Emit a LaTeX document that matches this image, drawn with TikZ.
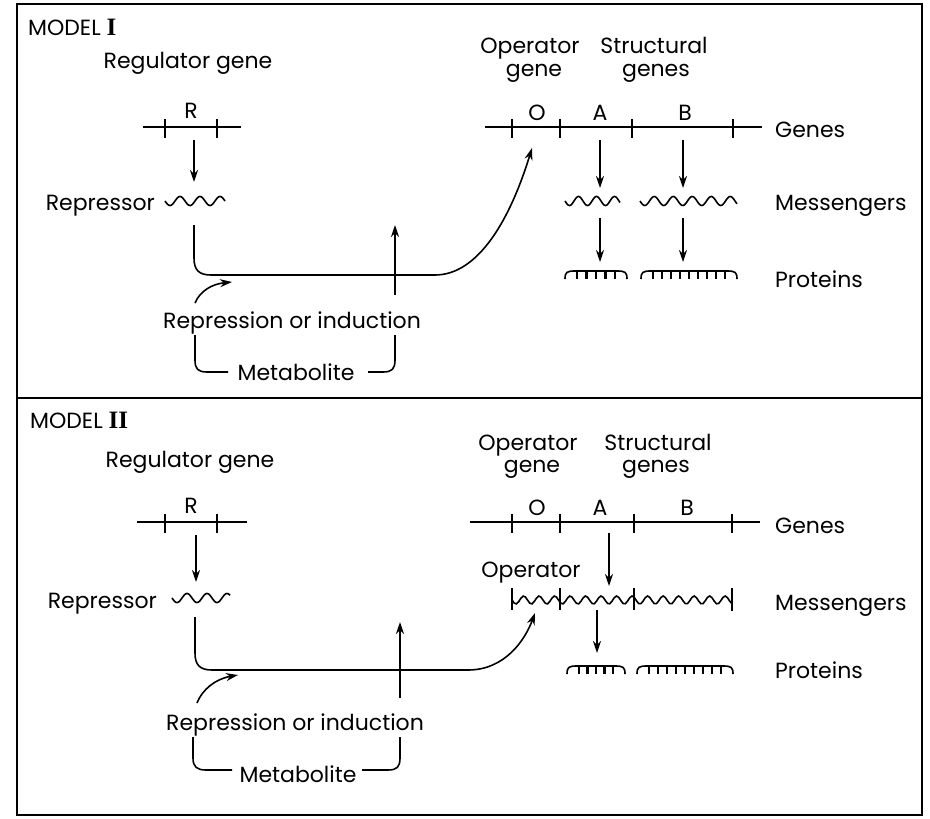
\documentclass[tikz,border=0pt]{standalone}
\usepackage{fontspec}
\setmainfont{Poppins}
\newfontfamily\numfont{Liberation Serif}
\usetikzlibrary{arrows.meta}
\tikzset{
 lbl/.style={inner sep=0pt, anchor=base, font=\fontsize{22}{26}\selectfont},
 ln/.style={line width=1.6pt},
 arr/.style={line width=1.6pt, -{Stealth[length=12pt,width=8pt]}},
 framebox/.style={line width=2pt},
 thicktick/.style={line width=2.4pt},
}
\newcommand\mwave[5]{%
 \pgfmathsetmacro\wlen{#2-#1}%
 \pgfmathsetmacro\wk{360/#4}%
 \draw[ln, shift={(#1,#3)}] plot[domain=0:\wlen,samples=100] (\x,{#5*sin(\x*\wk)});}
\newcommand\mprot[4]{%
 \draw[ln] (#1,#3+8) .. controls (#1,#3+1) and (#1+2,#3) .. (#1+10,#3) -- (#2-10,#3) .. controls (#2-2,#3) and (#2,#3+1) .. (#2,#3+8);
 \pgfmathsetmacro\pstep{(#2-#1-24)/(#4-1)}
 \foreach \k in {1,...,#4}{\draw[thicktick] ({#1+12+(\k-1)*\pstep},#3) -- ++(0,8);}
}
\begin{document}
\begin{tikzpicture}[x=1pt,y=-1pt]
\useasboundingbox (0,0) rectangle (930,819);
% frame
\draw[framebox] (17,4) rectangle (922,815);
\draw[framebox] (17,398) -- (922,398);

% ================= MODEL I =================
\node[lbl, anchor=base west] (m1) at (28,35) {MODEL {\numfont\bfseries\fontsize{25}{28}\selectfont I}};
\node[lbl] (reg1) at (188,68) {Regulator gene};
\node[lbl] (R1) at (191,118) {R};
\draw[ln] (143,127) -- (241,127);
\foreach \t in {165,217} \draw[ln] (\t,119) -- (\t,138);
\coordinate (r1a) at (194,140); \coordinate (r1b) at (194,182);
\draw[arr] (r1a) -- (r1b);
\node[lbl, anchor=base east] (rep1) at (155,210) {Repressor};
\mwave{165}{225}{201}{20}{4.5}

\node[lbl] (op1) at (530,53) {Operator};
\node[lbl] (opg1) at (534,76) {gene};
\node[lbl] (st1) at (654,53) {Structural};
\node[lbl] (stg1) at (656,76) {genes};
\node[lbl] (O1) at (537,120) {O};
\node[lbl] (A1) at (600,120) {A};
\node[lbl] (B1) at (685,120) {B};
\draw[ln] (485,127) -- (762,127);
\foreach \t in {512,560,632,733} \draw[ln] (\t,119) -- (\t,138);
\node[lbl, anchor=base west] (genes1) at (775,137) {Genes};
\node[lbl, anchor=base west] (mess1) at (775,210) {Messengers};
\node[lbl, anchor=base west] (prot1) at (775,287) {Proteins};

\coordinate (a1g) at (600,140); \coordinate (a1m) at (600,188);
\coordinate (b1g) at (683,140); \coordinate (b1m) at (683,188);
\draw[arr] (a1g) -- (a1m);
\draw[arr] (b1g) -- (b1m);
\mwave{565}{620}{201}{18}{4.5}
\mwave{640}{737}{201}{19}{4.5}
\coordinate (a1n) at (600,218); \coordinate (a1p) at (600,262);
\coordinate (b1n) at (683,218); \coordinate (b1p) at (683,262);
\draw[arr] (a1n) -- (a1p);
\draw[arr] (b1n) -- (b1p);
\mprot{565}{627}{271}{5}
\mprot{641}{737}{271}{9}

% connector repressor -> operator
\coordinate (c1s) at (194,225);
\coordinate (c1e) at (532,148);
\draw[arr] (c1s) -- (194,258) .. controls (194,270) and (199,275) .. (211,275) -- (435,275) .. controls (478,275) and (510,220) .. (c1e);
% metabolite up arrow
\coordinate (v1a) at (395,295); \coordinate (v1b) at (395,225);
\draw[arr] (v1a) -- (v1b);
% small curved arrow
\coordinate (s1a) at (195,303); \coordinate (s1b) at (232,282);
\draw[arr] (s1a) .. controls (200,291) and (212,284) .. (s1b);
\node[lbl] (ri1) at (292,328) {Repression or induction};
\node[lbl] (met1) at (296,380) {Metabolite};
\draw[ln] (228,372) -- (207,372) .. controls (198,372) and (195,369) .. (195,360) -- (195,335);
\draw[ln] (368,372) -- (383,372) .. controls (392,372) and (395,369) .. (395,360) -- (395,335);

% ================= MODEL II =================
\node[lbl, anchor=base west] (m2) at (30,428) {MODEL {\numfont\bfseries\fontsize{25}{28}\selectfont II}};
\node[lbl] (reg2) at (190,467) {Regulator gene};
\node[lbl] (R2) at (191,513) {R};
\draw[ln] (137,522) -- (247,522);
\foreach \t in {165,217} \draw[ln] (\t,514) -- (\t,533);
\coordinate (r2a) at (196,535); \coordinate (r2b) at (196,582);
\draw[arr] (r2a) -- (r2b);
\node[lbl, anchor=base east] (rep2) at (157,608) {Repressor};
\mwave{172}{230}{598}{20}{4.5}

\node[lbl] (op2) at (528,450) {Operator};
\node[lbl] (opg2) at (532,472) {gene};
\node[lbl] (st2) at (658,450) {Structural};
\node[lbl] (stg2) at (656,472) {genes};
\node[lbl] (O2) at (537,515) {O};
\node[lbl] (A2) at (600,515) {A};
\node[lbl] (B2) at (687,515) {B};
\draw[ln] (470,522) -- (760,522);
\foreach \t in {512,560,634,732} \draw[ln] (\t,514) -- (\t,533);
\node[lbl, anchor=base west] (genes2) at (775,533) {Genes};
\node[lbl] (op3) at (531,577) {Operator};
\node[lbl, anchor=base west] (mess2) at (775,610) {Messengers};
\node[lbl, anchor=base west] (prot2) at (775,678) {Proteins};

\coordinate (a2g) at (609,533); \coordinate (a2m) at (609,586);
\draw[arr] (a2g) -- (a2m);
\mwave{512}{732}{600}{15.5}{4}
\foreach \t in {512,560,634} \draw[ln] (\t,588) -- (\t,610);
\draw[thicktick] (732,588) -- (732,611);
\coordinate (a2n) at (597,610); \coordinate (a2p) at (597,653);
\draw[arr] (a2n) -- (a2p);
\mprot{567}{625}{666}{5}
\mprot{637}{733}{666}{9}

\coordinate (c2s) at (195,617);
\coordinate (c2e) at (535,613);
\draw[arr] (c2s) -- (195,653) .. controls (195,665) and (200,670) .. (212,670) -- (468,670) .. controls (505,670) and (525,640) .. (c2e);
\coordinate (v2a) at (400,698); \coordinate (v2b) at (400,622);
\draw[arr] (v2a) -- (v2b);
\coordinate (s2a) at (197,703); \coordinate (s2b) at (238,675);
\draw[arr] (s2a) .. controls (202,690) and (215,679) .. (s2b);
\node[lbl] (ri2) at (295,730) {Repression or induction};
\node[lbl] (met2) at (298,782) {Metabolite};
\draw[ln] (232,770) -- (206,770) .. controls (197,770) and (193,767) .. (193,758) -- (193,737);
\draw[ln] (362,770) -- (388,770) .. controls (397,770) and (400,767) .. (400,758) -- (400,737);
\end{tikzpicture}
\end{document}
